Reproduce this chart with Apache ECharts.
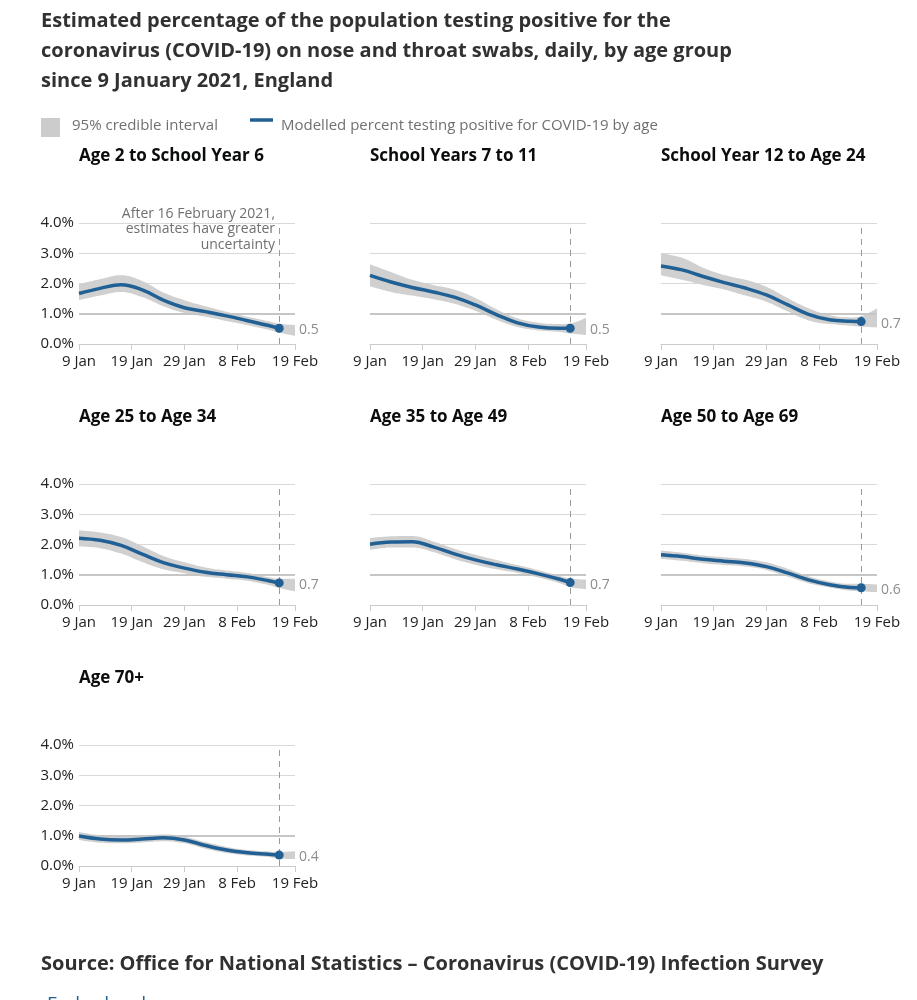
<!DOCTYPE html>
<html>
<head>
<meta charset="utf-8">
<style>
  html, body { margin: 0; padding: 0; background: #ffffff; }
  #chart { width: 917px; height: 1000px; }
</style>
<script src="https://cdn.jsdelivr.net/npm/echarts@6/dist/echarts.min.js"></script>
</head>
<body>
<div id="chart"></div>
<script>
// ---------- DATA ----------
const titleLines = [
  'Estimated percentage of the population testing positive for the',
  'coronavirus (COVID-19) on nose and throat swabs, daily, by age group',
  'since 9 January 2021, England'
];
const sourceText = 'Source: Office for National Statistics \u2013 Coronavirus (COVID-19) Infection Survey';
const legendBand = '95% credible interval';
const legendLine = 'Modelled percent testing positive for COVID-19 by age';
const annotation = 'After 16 February 2021,\nestimates have greater\nuncertainty';

const panelNames = [
  'Age 2 to School Year 6', 'School Years 7 to 11', 'School Year 12 to Age 24',
  'Age 25 to Age 34', 'Age 35 to Age 49', 'Age 50 to Age 69', 'Age 70+'
];

// days since 9 Jan 2021 (axis runs 9 Jan .. 19 Feb = day 41)
const lastDay = 41;
const tickDays = [0, 10, 20, 30, 41];
const tickLabels = ['9 Jan', '19 Jan', '29 Jan', '8 Feb', '19 Feb'];
const cutoffDay = 38; // 16 February 2021

const lineDays = [0, 4, 8, 12, 16, 20, 24, 28, 32, 36, 38];
const bandDays = [0, 4, 8, 12, 16, 20, 24, 28, 32, 36, 38, 41];

const central = [
  [1.67, 1.84, 1.96, 1.79, 1.45, 1.20, 1.07, 0.93, 0.77, 0.61, 0.52],
  [2.27, 2.05, 1.87, 1.72, 1.55, 1.29, 0.97, 0.70, 0.56, 0.52, 0.52],
  [2.58, 2.45, 2.23, 2.03, 1.85, 1.62, 1.30, 0.98, 0.80, 0.75, 0.74],
  [2.21, 2.14, 1.97, 1.68, 1.40, 1.22, 1.08, 1.00, 0.93, 0.80, 0.73],
  [2.01, 2.08, 2.09, 1.92, 1.69, 1.49, 1.33, 1.19, 1.03, 0.85, 0.74],
  [1.66, 1.60, 1.51, 1.45, 1.39, 1.27, 1.06, 0.83, 0.67, 0.58, 0.57],
  [0.99, 0.89, 0.86, 0.89, 0.93, 0.86, 0.68, 0.53, 0.44, 0.39, 0.36]
];
const upper = [
  [1.98, 2.14, 2.27, 2.08, 1.70, 1.45, 1.25, 1.07, 0.90, 0.75, 0.67, 0.63],
  [2.64, 2.38, 2.12, 1.95, 1.80, 1.52, 1.15, 0.85, 0.70, 0.66, 0.68, 0.87],
  [2.99, 2.85, 2.52, 2.28, 2.12, 1.89, 1.52, 1.18, 0.95, 0.88, 0.92, 1.18],
  [2.46, 2.40, 2.25, 1.95, 1.62, 1.41, 1.24, 1.14, 1.06, 0.92, 0.87, 0.87],
  [2.21, 2.27, 2.28, 2.10, 1.86, 1.66, 1.49, 1.32, 1.15, 0.96, 0.88, 0.84],
  [1.80, 1.73, 1.64, 1.58, 1.52, 1.41, 1.20, 0.95, 0.78, 0.70, 0.70, 0.67],
  [1.12, 1.01, 0.97, 1.00, 1.04, 0.97, 0.79, 0.63, 0.53, 0.48, 0.47, 0.49]
];
const lower = [
  [1.45, 1.60, 1.72, 1.55, 1.25, 1.03, 0.90, 0.76, 0.62, 0.47, 0.37, 0.27],
  [1.91, 1.72, 1.60, 1.48, 1.33, 1.10, 0.80, 0.56, 0.45, 0.40, 0.35, 0.30],
  [2.27, 2.12, 1.95, 1.80, 1.60, 1.40, 1.08, 0.78, 0.66, 0.60, 0.57, 0.55],
  [1.93, 1.88, 1.70, 1.42, 1.18, 1.05, 0.93, 0.87, 0.80, 0.66, 0.56, 0.45],
  [1.82, 1.90, 1.90, 1.75, 1.52, 1.33, 1.18, 1.06, 0.91, 0.72, 0.59, 0.53],
  [1.52, 1.46, 1.38, 1.32, 1.27, 1.16, 0.94, 0.72, 0.58, 0.47, 0.45, 0.43],
  [0.86, 0.77, 0.75, 0.78, 0.82, 0.75, 0.57, 0.43, 0.35, 0.30, 0.25, 0.23]
];

// ---------- STYLE / LAYOUT ----------
const dayCats = Array.from({ length: lastDay + 1 }, (_, d) => String(d));
const isTick = (idx) => tickDays.indexOf(idx) >= 0;

const BLUE = '#206095';
const BAND = '#d0d0d0';
const GREY_TXT = '#707070';
const FONT = '"Open Sans", "Noto Sans", sans-serif';
const colX = [79, 370, 661];
const rowY = [223, 484, 745];
const GW = 216, GH = 121;

const chart = echarts.init(document.getElementById('chart'), null, { renderer: 'canvas' });

const grids = [], xAxes = [], yAxes = [], series = [], titles = [];

titles.push({
  text: titleLines.join('\n'), left: 41, top: 6, padding: 0,
  textStyle: { fontFamily: FONT, fontSize: 20, fontWeight: 'bold', color: '#323132', lineHeight: 30 }
});
titles.push({
  text: sourceText, left: 41, top: 952, padding: 0,
  textStyle: { fontFamily: FONT, fontSize: 20, fontWeight: 'bold', color: '#323132', lineHeight: 24 }
});
titles.push({
  text: 'Embed code', left: 47, top: 995, padding: 0,
  textStyle: { fontFamily: FONT, fontSize: 19, fontWeight: 'normal', color: BLUE }
});

panelNames.forEach((name, i) => {
  const col = i % 3, row = Math.floor(i / 3);
  const left = colX[col], top = rowY[row];
  grids.push({ left: left, top: top, width: GW, height: GH, containLabel: false });
  titles.push({
    text: name, left: left, top: top - 78, padding: 0,
    textStyle: { fontFamily: FONT, fontSize: 17, fontWeight: 'bold', color: '#0b0c0c', lineHeight: 22 }
  });
  xAxes.push({
    type: 'category', gridIndex: i, data: dayCats, boundaryGap: false,
    axisLine: { show: true, lineStyle: { color: '#cccccc', width: 1 } },
    axisTick: { show: true, interval: (idx) => isTick(idx), length: 6, lineStyle: { color: '#cccccc' } },
    axisLabel: {
      show: true, interval: (idx) => isTick(idx), margin: 10, hideOverlap: false,
      fontFamily: FONT, fontSize: 15, color: '#222222',
      formatter: (v, idx) => tickLabels[tickDays.indexOf(idx)]
    },
    splitLine: { show: false }
  });
  yAxes.push({
    type: 'value', gridIndex: i, min: 0, max: 4, interval: 1,
    axisLine: { show: false }, axisTick: { show: false },
    axisLabel: {
      show: col === 0, margin: 5, fontFamily: FONT, fontSize: 15, color: '#222222',
      formatter: (v) => v.toFixed(1) + '%'
    },
    splitLine: { show: true, lineStyle: { color: '#d9d9d9', width: 1 } }
  });

  const lowData = bandDays.map((d, k) => [d, lower[i][k]]);
  const diffData = bandDays.map((d, k) => [d, +(upper[i][k] - lower[i][k]).toFixed(3)]);
  const lineData = lineDays.map((d, k) => [d, central[i][k]]);
  const last = lineData.length - 1;
  const endVal = central[i][last];

  series.push({
    type: 'line', xAxisIndex: i, yAxisIndex: i, stack: 'band' + i,
    data: lowData, smooth: 0.4, symbol: 'none',
    lineStyle: { opacity: 0 }, silent: true, z: 2
  });
  series.push({
    type: 'line', xAxisIndex: i, yAxisIndex: i, stack: 'band' + i,
    data: diffData, smooth: 0.4, symbol: 'none',
    lineStyle: { opacity: 0 }, areaStyle: { color: BAND, opacity: 1 }, silent: true, z: 2,
    markLine: {
      silent: true, symbol: 'none', z: 3,
      lineStyle: { color: '#c6c6c6', width: 2, type: 'solid' },
      label: { show: false },
      data: [{ yAxis: 1 }]
    }
  });
  series.push({
    type: 'line', xAxisIndex: i, yAxisIndex: i,
    data: lineData, smooth: 0.4,
    showSymbol: true, showAllSymbol: true, symbol: 'circle',
    symbolSize: (v, p) => (p.dataIndex === last ? 9 : 0),
    itemStyle: { color: BLUE },
    lineStyle: { color: BLUE, width: 3.5 }, z: 5,
    markLine: {
      silent: true, symbol: 'none', z: 4,
      lineStyle: { color: '#9a9a9a', width: 1, type: [6, 5] },
      label: { show: false },
      data: [{ xAxis: cutoffDay }]
    }
  });
  series.push({
    type: 'scatter', xAxisIndex: i, yAxisIndex: i,
    data: [[lastDay, endVal]], symbolSize: 0, silent: true, z: 6,
    label: {
      show: true, position: 'right', distance: 4, offset: [0, 2],
      fontFamily: FONT, fontSize: 14, color: GREY_TXT,
      formatter: () => endVal.toFixed(1)
    }
  });
});

const option = {
  backgroundColor: '#ffffff',
  animation: false,
  title: titles,
  grid: grids,
  xAxis: xAxes,
  yAxis: yAxes,
  series: series,
  graphic: [
    { type: 'rect', left: 41, top: 118, z: 100, shape: { width: 19, height: 19 }, style: { fill: '#cccccc' } },
    { type: 'text', left: 72, top: 118, z: 100, style: { text: legendBand, fontFamily: FONT, fontSize: 15, fill: GREY_TXT } },
    { type: 'line', z: 100, shape: { x1: 250, y1: 120, x2: 273, y2: 120 }, style: { stroke: BLUE, lineWidth: 3.5 } },
    { type: 'text', left: 281, top: 118, z: 100, style: { text: legendLine, fontFamily: FONT, fontSize: 15, fill: GREY_TXT } },
    { type: 'text', x: 275, y: 206, z: 100,
      style: { text: annotation, fontFamily: FONT, fontSize: 14, fill: GREY_TXT, align: 'right', verticalAlign: 'top', lineHeight: 15.5 } }
  ]
};
chart.setOption(option);
</script>
</body>
</html>
